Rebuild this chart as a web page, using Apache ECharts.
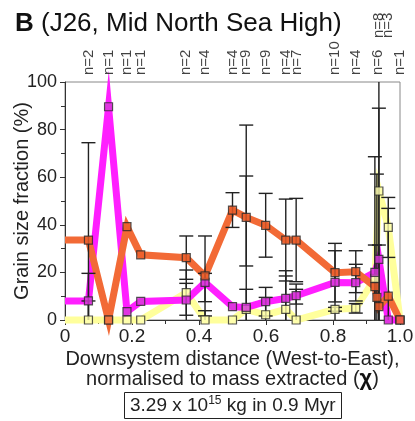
<!DOCTYPE html>
<html><head><meta charset="utf-8">
<script src="https://cdn.jsdelivr.net/npm/echarts@6/dist/echarts.min.js"></script>
<style>html,body{margin:0;padding:0;background:#fff}#c{width:415px;height:421px}</style>
</head><body><div id="c"></div>
<script>
// Downsystem distance (chi) of each sample group
const distance = [0, 0.07, 0.13, 0.185, 0.226, 0.362, 0.418, 0.50, 0.541, 0.599, 0.659, 0.690, 0.806, 0.868, 0.925, 0.931, 0.937, 0.965, 1.0];
// Grain size fractions (%) — null = no value at that position
const orangeFraction  = [33.6, 33.6, 0, 39.2, 27.4, 26.2, 18.5, 46.2, 43.1, 39.8, 33.6, 33.6, 19.9, 20.3, 14, 9.5, 5.6, 10, 0];
const magentaFraction = [8, 8, 89.6, 3.5, 7.8, 8.4, 15.8, 5.6, 5.3, 7.7, 9.1, 10.2, 15.8, 15.7, 20, null, 25.5, 0, 0];
const yellowFraction  = [0, 0, 0, 0, 0, 11.5, 0, 0, 4.5, 2.2, 4.5, 0, 4.5, 4.9, 17.5, null, 54.2, 38.9, 0];
// Error bar bounds (null = no bar)
const orangeLow   = [null, 0, null, null, null, 17.1, 1.7, 38.9, 22.7, 26.4, 16.4, 16.1, 7.6, 11.5, 0, 0, 0, 0, null];
const orangeHigh  = [null, 74.5, null, null, null, 35.3, 35.3, 53.5, 60.5, 53.2, 50.8, 51.1, 32.2, 29.1, 31.5, 61.3, 31.5, 46.9, null];
const magentaLow  = [null, 0, null, null, null, 0, 7.7, null, 0, 1.7, 0, 6.7, 0, 8, null, null, 0, null, null];
const magentaHigh = [null, 19.6, null, null, null, 15.4, 19.6, null, 81.9, 13.7, 18.5, 12.9, 29.1, 23.4, null, null, 89, null, null];
const yellowLow   = [null, 0, null, null, null, 2, 0, null, 0, 0, 0, 0, 3.7, 2.9, 0, null, 0, 26.3, null];
const yellowHigh  = [null, 8, null, null, null, 21, 3.9, null, 12.9, 9.5, 20.7, 15.1, 5.3, 6.9, 68.6, null, 108, 51.5, null];
// Sample counts shown above the plot
const sampleCountX = [0.07, 0.13, 0.185, 0.226, 0.362, 0.418, 0.50, 0.541, 0.599, 0.659, 0.692, 0.806, 0.868, 0.935, 0.937, 0.963, 1.0];
const sampleCounts = ['n=2','n=1','n=1','n=1','n=2','n=4','n=4','n=9','n=9','n=4','n=7','n=10','n=4','n=6','n=8','n=3','n=1'];
// Tick labels
const xTickLabels = ['0', '0.2', '0.4', '0.6', '0.8', '1.0'];
const yTickLabels = ['0', '20', '40', '60', '80', '100'];

const FONT = '"Liberation Sans", Arial, Helvetica, sans-serif';
const chart = echarts.init(document.getElementById('c'), null, {renderer: 'canvas'});

function pairs(vals, skipFirst) {
  const out = [];
  vals.forEach((v, i) => { if (v !== null && !(skipFirst && i === 0)) out.push([distance[i], v]); });
  return out;
}
function bars(lo, hi) {
  const out = [];
  lo.forEach((l, i) => { if (l !== null && hi[i] !== null) out.push([distance[i], l, hi[i]]); });
  return out;
}
function lineSeries(name, vals, color, z) {
  return {
    name, type: 'line', data: pairs(vals, false), showSymbol: false, clip: false, z,
    connectNulls: true, silent: true,
    lineStyle: {color, width: 7, join: 'miter', miterLimit: 60}
  };
}
function markerSeries(name, vals, fill, z) {
  return {
    name, type: 'scatter', data: pairs(vals, true), symbol: 'rect', symbolSize: 8, z, clip: false,
    itemStyle: {color: fill, borderColor: '#2a2a2a', borderWidth: 1.2}, silent: true
  };
}
function errorSeries(lo, hi) {
  return {
    type: 'custom', data: bars(lo, hi), z: 5, silent: true, clip: false,
    renderItem(params, api) {
      const x = api.value(0);
      let l = api.value(1), h = api.value(2);
      const capL = l > 0, capH = h < 100;
      l = Math.max(0, l); h = Math.min(100, h);
      const pL = api.coord([x, l]), pH = api.coord([x, h]);
      const hw = 7, st = {stroke: '#222', lineWidth: 1.4};
      const ch = [{type: 'line', shape: {x1: pL[0], y1: pL[1], x2: pH[0], y2: pH[1]}, style: st}];
      if (capL) ch.push({type: 'line', shape: {x1: pL[0] - hw, y1: pL[1], x2: pL[0] + hw, y2: pL[1]}, style: st});
      if (capH) ch.push({type: 'line', shape: {x1: pH[0] - hw, y1: pH[1], x2: pH[0] + hw, y2: pH[1]}, style: st});
      return {type: 'group', children: ch};
    }
  };
}
// sample-count labels: a label close to the previous un-raised one is lifted up
const countData = [];
let lastLowX = -1;
sampleCountX.forEach((x, i) => {
  const raised = (x - lastLowX) < 0.03;
  if (!raised) lastLowX = x;
  countData.push({value: [x, 100], label: {distance: raised ? 44 : 7}, name: sampleCounts[i]});
});

const option = {
  animation: false,
  textStyle: {fontFamily: FONT},
  title: [{
    text: '{b|B} (J26, Mid North Sea High)', left: 10, top: 6,
    textStyle: {fontFamily: FONT, fontSize: 26, fontWeight: 'normal', color: '#111',
      rich: {b: {fontFamily: FONT, fontSize: 26, fontWeight: 'bold', color: '#111'}}}
  }, {
    text: '3.29 x 10{sup|15} kg in 0.9 Myr', left: 124, top: 392,
    borderColor: '#222', borderWidth: 1, padding: [3, 6, 2, 6],
    textStyle: {fontFamily: FONT, fontSize: 19, fontWeight: 'normal', color: '#222', lineHeight: 22,
      rich: {sup: {fontFamily: FONT, fontSize: 12, color: '#222', verticalAlign: 'top', lineHeight: 22, padding: [0, 0, 8, 0]}}}
  }],
  grid: {left: 65, right: 15, top: 82, bottom: 101, show: true, borderColor: '#888', borderWidth: 1,
    backgroundColor: 'transparent', outerBoundsMode: 'none', containLabel: false},
  xAxis: {
    type: 'value', min: 0, max: 1, interval: 0.2,
    name: 'Downsystem distance (West-to-East),\nnormalised to mass extracted ({chi|χ})',
    nameLocation: 'middle', nameGap: 29, nameMoveOverlap: false,
    nameTextStyle: {fontFamily: FONT, fontSize: 20, color: '#222', lineHeight: 20,
      rich: {chi: {fontFamily: FONT, fontSize: 22, fontWeight: 'bold', color: '#111', lineHeight: 20}}},
    axisLine: {show: true, lineStyle: {color: '#333', width: 1}},
    axisTick: {show: true, inside: false, length: 5, lineStyle: {color: '#333'}},
    minorTick: {show: true, splitNumber: 2, length: 4, lineStyle: {color: '#333'}},
    splitLine: {show: false},
    axisLabel: {fontFamily: FONT, fontSize: 19, color: '#222', margin: 7,
      formatter: v => xTickLabels[Math.round(v / 0.2)]}
  },
  yAxis: {
    type: 'value', min: 0, max: 100, interval: 20,
    name: 'Grain size fraction (%)', nameLocation: 'middle', nameGap: 33, nameMoveOverlap: false,
    nameTextStyle: {fontFamily: FONT, fontSize: 20, color: '#222'},
    axisLine: {show: true, lineStyle: {color: '#333', width: 1}},
    axisTick: {show: true, inside: false, length: 5, lineStyle: {color: '#333'}},
    minorTick: {show: true, splitNumber: 2, length: 4, lineStyle: {color: '#333'}},
    splitLine: {show: false},
    axisLabel: {fontFamily: FONT, fontSize: 18, color: '#222', margin: 8,
      formatter: v => yTickLabels[Math.round(v / 20)]}
  },
  series: [
    lineSeries('yellow', yellowFraction, '#FFFF9C', 1),
    lineSeries('magenta', magentaFraction, '#FF1FFF', 2),
    lineSeries('orange', orangeFraction, '#F26A36', 3),
    errorSeries(orangeLow, orangeHigh),
    errorSeries(magentaLow, magentaHigh),
    errorSeries(yellowLow, yellowHigh),
    markerSeries('yellowMarks', yellowFraction, '#FFFFB0', 6),
    markerSeries('magentaMarks', magentaFraction, '#D83BD8', 7),
    markerSeries('orangeMarks', orangeFraction, '#EE5F2C', 8),
    {
      type: 'scatter', data: countData, symbolSize: 0, clip: false, z: 9, silent: true,
      label: {show: true, position: 'top', rotate: 90, align: 'left', verticalAlign: 'middle',
        formatter: p => p.name, fontFamily: FONT, fontSize: 15, color: '#111'}
    }
  ]
};
chart.setOption(option);
</script></body></html>
